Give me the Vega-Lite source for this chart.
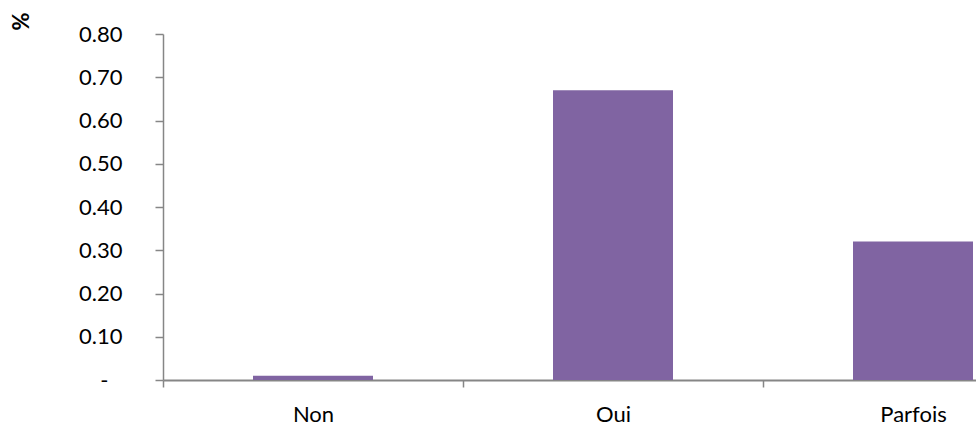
{
  "$schema": "https://vega.github.io/schema/vega-lite/v6.json",
  "autosize": {"type": "none"},
  "width": 813,
  "height": 346,
  "padding": {"left": 163, "top": 34, "right": 0, "bottom": 45},
  "background": "white",
  "config": {
    "view": {"stroke": null},
    "font": "Lato"
  },
  "data": {
    "values": [
      {"reponse": "Non", "part": 0.01},
      {"reponse": "Oui", "part": 0.67},
      {"reponse": "Parfois", "part": 0.32}
    ]
  },
  "mark": {"type": "bar", "color": "#8064A2", "width": {"band": 0.4}},
  "encoding": {
    "x": {
      "field": "reponse",
      "type": "nominal",
      "sort": null,
      "scale": {"range": [0, 900], "paddingInner": 0, "paddingOuter": 0},
      "axis": {
        "title": null,
        "labelAngle": 0,
        "labelFont": "Lato",
        "labelFontSize": 22,
        "labelColor": "#000000",
        "labelPadding": 17,
        "tickBand": "extent",
        "tickSize": 7,
        "tickWidth": 1.5,
        "tickColor": "#868686",
        "domainColor": "#868686",
        "domainWidth": 2,
        "grid": false
      }
    },
    "y": {
      "field": "part",
      "type": "quantitative",
      "scale": {"domain": [0, 0.8], "nice": false},
      "axis": {
        "values": [0, 0.1, 0.2, 0.3, 0.4, 0.5, 0.6, 0.7, 0.8],
        "labelExpr": "datum.value == 0 ? '-\u2007\u200a\u200b' : format(datum.value, '.2f')",
        "labelFont": "Lato",
        "labelFontSize": 22,
        "labelColor": "#000000",
        "labelPadding": 33,
        "tickSize": 8,
        "tickWidth": 1.5,
        "tickColor": "#868686",
        "domainColor": "#868686",
        "domainWidth": 1.5,
        "grid": false,
        "title": "%",
        "titleFont": "Lato",
        "titleFontSize": 22,
        "titleFontWeight": "bold",
        "titleColor": "#000000",
        "titleAngle": 270,
        "titleAlign": "center",
        "titleBaseline": "middle",
        "titleX": -142,
        "titleY": -13
      }
    }
  }
}
